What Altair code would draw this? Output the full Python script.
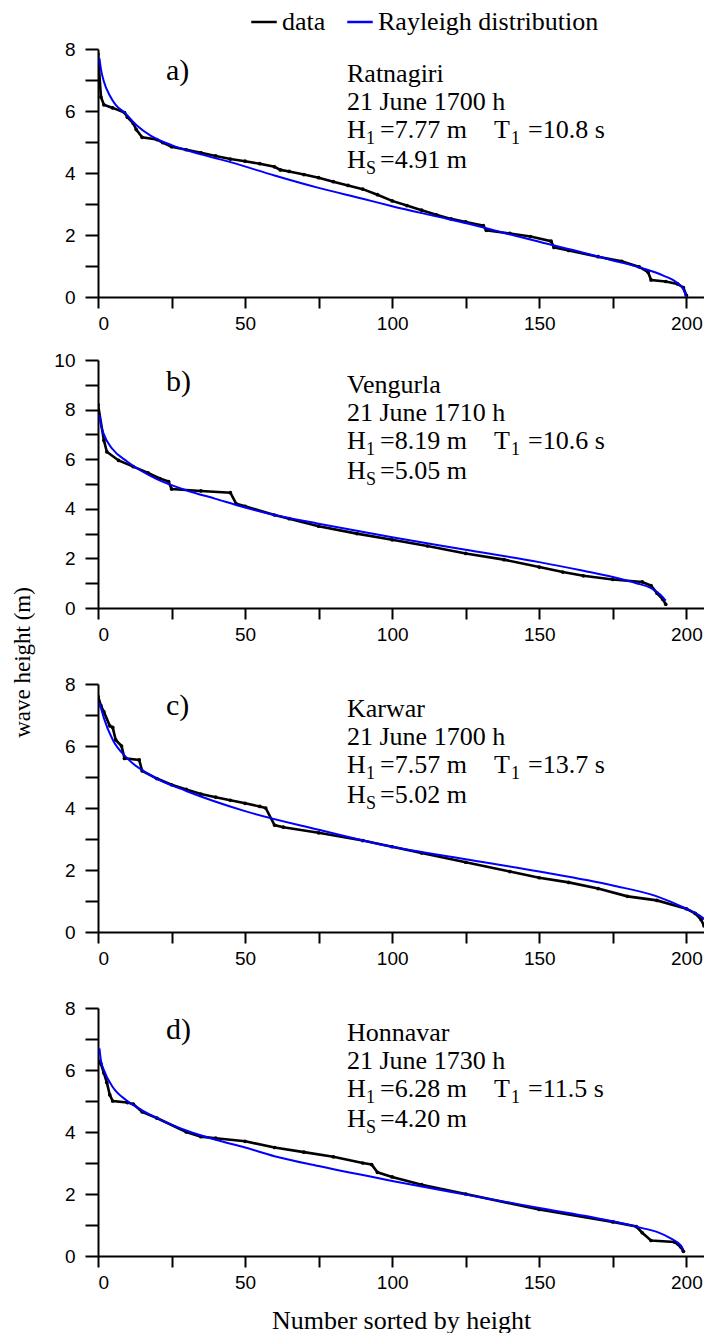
import altair as alt
import pandas as pd

# ---------------- data ----------------
# a) Ratnagiri
a_data_n = [0, 1, 2, 5, 9, 10, 12, 13, 15, 20, 22, 25, 30, 35, 40, 45, 50, 55, 60, 62, 65, 70, 75, 80, 85, 90, 95, 100, 105, 110, 115, 120, 125, 131, 132, 140, 147, 154, 155, 160, 170, 178, 184, 187, 188, 193, 197, 199, 200]
a_data_h = [7.84, 6.45, 6.2, 6.1, 5.95, 5.8, 5.6, 5.4, 5.15, 5.08, 4.98, 4.85, 4.75, 4.65, 4.55, 4.45, 4.38, 4.3, 4.2, 4.1, 4.05, 3.95, 3.85, 3.72, 3.6, 3.48, 3.3, 3.1, 2.95, 2.8, 2.65, 2.52, 2.42, 2.3, 2.15, 2.05, 1.95, 1.8, 1.6, 1.5, 1.3, 1.15, 0.97, 0.8, 0.55, 0.5, 0.42, 0.3, 0.05]
a_ray_n = [0.5, 1, 2, 4, 6, 9, 13, 18, 25, 35, 45, 60, 75, 90, 100, 115, 126, 140, 150, 165, 175, 185, 192, 197, 199, 200]
a_ray_h = [7.7, 7.35, 6.95, 6.5, 6.2, 5.95, 5.55, 5.2, 4.9, 4.6, 4.35, 3.92, 3.52, 3.17, 2.93, 2.6, 2.36, 2.02, 1.78, 1.43, 1.18, 0.93, 0.7, 0.45, 0.25, 0.0]

# b) Vengurla
b_data_n = [0, 2, 3, 7, 12, 17, 21, 24, 25, 35, 45, 47, 50, 60, 65, 75, 88, 100, 112, 125, 138, 150, 158, 165, 175, 185, 188, 190, 192, 193]
b_data_h = [8.2, 6.76, 6.3, 5.95, 5.7, 5.45, 5.22, 5.1, 4.8, 4.72, 4.65, 4.2, 4.1, 3.75, 3.6, 3.3, 3.0, 2.75, 2.5, 2.2, 1.95, 1.65, 1.45, 1.3, 1.15, 1.05, 0.9, 0.6, 0.35, 0.15]
b_ray_n = [0.5, 1, 2, 5, 10, 20, 30, 40, 50, 60, 75, 100, 125, 150, 165, 175, 183, 188, 191, 193]
b_ray_h = [7.8, 7.4, 7.0, 6.4, 5.9, 5.2, 4.75, 4.4, 4.05, 3.75, 3.4, 2.85, 2.35, 1.85, 1.5, 1.25, 1.0, 0.8, 0.55, 0.3]

# c) Karwar
c_data_n = [0, 1, 2, 4, 5, 6, 8, 9, 14, 15, 20, 25, 30, 35, 40, 45, 50, 55, 57, 60, 63, 75, 90, 100, 110, 125, 140, 150, 160, 170, 180, 190, 200, 203, 205, 206, 208]
c_data_h = [7.6, 7.3, 7.1, 6.65, 6.6, 6.2, 6.0, 5.6, 5.55, 5.2, 4.95, 4.75, 4.6, 4.45, 4.35, 4.25, 4.15, 4.05, 4.0, 3.45, 3.38, 3.2, 2.95, 2.75, 2.55, 2.25, 1.95, 1.75, 1.6, 1.4, 1.15, 1.02, 0.75, 0.6, 0.4, 0.2, 0.2]
c_ray_n = [0.5, 2, 5, 10, 20, 30, 50, 75, 100, 125, 150, 175, 190, 200, 205, 208]
c_ray_h = [7.4, 6.9, 6.2, 5.6, 4.95, 4.55, 3.9, 3.3, 2.75, 2.35, 1.95, 1.5, 1.15, 0.75, 0.5, 0.25]

# d) Honnavar
d_data_n = [0, 1, 2, 3, 4, 5, 10, 12, 15, 20, 30, 35, 40, 50, 60, 70, 80, 90, 93, 95, 100, 110, 125, 150, 175, 183, 185, 188, 196, 198, 199]
d_data_h = [6.3, 6.2, 5.9, 5.6, 5.2, 5.0, 4.95, 4.9, 4.65, 4.45, 4.0, 3.85, 3.8, 3.7, 3.5, 3.35, 3.2, 3.0, 2.95, 2.7, 2.55, 2.3, 2.0, 1.5, 1.1, 0.95, 0.75, 0.5, 0.45, 0.3, 0.15]
d_ray_n = [0.5, 1, 2, 5, 10, 15, 20, 30, 40, 50, 60, 75, 100, 125, 150, 175, 185, 190, 195, 198, 199]
d_ray_h = [6.7, 6.3, 6.0, 5.45, 5.0, 4.7, 4.45, 4.05, 3.75, 3.5, 3.22, 2.9, 2.42, 1.98, 1.55, 1.12, 0.9, 0.78, 0.55, 0.35, 0.2]

series_names = ["data", "Rayleigh distribution"]
series_colors = ["#000000", "#0000ff"]
x_ticks = [0, 25, 50, 75, 100, 125, 150, 175, 200]

SERIF = "Liberation Serif"
SANS = "Liberation Sans"

PLOT_W = 606
X_MAX = 206
PLOT_H = 248
FS = 26      # annotation font size
SUB = 18     # subscript font size


def txt(t, px, py, size, font=SERIF):
    return alt.Chart(pd.DataFrame({"t": [t]})).mark_text(
        align="left", baseline="alphabetic", font=font, fontSize=size, color="black"
    ).encode(text="t:N", x=alt.value(px), y=alt.value(py))


def panel(dn, dh, rn, rh, ymax, letter, place, date, h1, t1, hs, top, ytitle=False, xtitle=False):
    H = PLOT_H + top
    d1 = pd.DataFrame({"n": dn, "h": dh, "series": series_names[0]})
    d2 = pd.DataFrame({"n": rn, "h": rh, "series": series_names[1]})
    xenc = alt.X(
        "n:Q",
        scale=alt.Scale(domain=[0, X_MAX], nice=False, zero=False),
        axis=alt.Axis(
            values=x_ticks,
            labelExpr="datum.value % 50 == 0 ? datum.label : ''",
            tickSize=11,
            labelPadding=6,
            title="Number sorted by height" if xtitle else None,
            titleFont=SERIF,
            titleFontSize=26,
            titleFontWeight="normal",
            titlePadding=15,
        ),
    )
    yaxis = dict(
        values=list(range(0, ymax + 1)),
        labelExpr="datum.value % 2 == 0 ? datum.label : ''",
        tickSize=13,
        labelPadding=10,
        title="wave height (m)" if ytitle else None,
    )
    if ytitle:
        yaxis.update(
            titleFont=SERIF, titleFontSize=23, titleFontWeight="normal",
            titleX=-76, titleY=-9, titleAngle=270, titleAlign="center", titleBaseline="middle",
        )
    yenc = alt.Y(
        "h:Q",
        scale=alt.Scale(domain=[0, ymax], nice=False, zero=True, range=[H, top]),
        axis=alt.Axis(**yaxis),
    )
    color = alt.Color(
        "series:N",
        scale=alt.Scale(domain=series_names, range=series_colors),
        legend=alt.Legend(
            orient="none", legendX=152, legendY=-41, direction="horizontal", title=None,
            symbolType="stroke", symbolStrokeWidth=2.5, symbolSize=650,
            labelFont=SERIF, labelFontSize=26, labelColor="black", labelLimit=400,
            columnPadding=16, padding=0,
        ),
    )
    data_line = alt.Chart(d1).mark_line(
        strokeWidth=2.6, clip=True, point=alt.OverlayMarkDef(size=14, filled=True, clip=True)
    ).encode(x=xenc, y=yenc, color=color)
    ray_line = alt.Chart(d2).mark_line(
        strokeWidth=2, interpolate="monotone", clip=True
    ).encode(x=xenc, y=yenc, color=color)

    x0 = 249
    texts = [
        txt(letter, 68, top + 31, 30),
        txt(place, x0, top + 33, FS),
        txt(date, x0, top + 61, FS),
        txt("H", x0, top + 89, FS),
        txt("1", x0 + 19, top + 95, SUB),
        txt("=" + h1 + " m", x0 + 33, top + 89, FS),
        txt("T", x0 + 147, top + 89, FS),
        txt("1", x0 + 164, top + 95, SUB),
        txt("=" + t1 + " s", x0 + 181, top + 89, FS),
        txt("H", x0, top + 119, FS),
        txt("S", x0 + 19, top + 125, SUB),
        txt("=" + hs + " m", x0 + 33, top + 119, FS),
    ]
    return alt.layer(data_line, ray_line, *texts).properties(width=PLOT_W, height=H)


pa = panel(a_data_n, a_data_h, a_ray_n, a_ray_h, 8, "a)", "Ratnagiri", "21 June 1700 h", "7.77", "10.8", "4.91", 0)
pb = panel(b_data_n, b_data_h, b_ray_n, b_ray_h, 10, "b)", "Vengurla", "21 June 1710 h", "8.19", "10.6", "5.05", 0)
pc = panel(c_data_n, c_data_h, c_ray_n, c_ray_h, 8, "c)", "Karwar", "21 June 1700 h", "7.57", "13.7", "5.02", 13, ytitle=True)
pd_ = panel(d_data_n, d_data_h, d_ray_n, d_ray_h, 8, "d)", "Honnavar", "21 June 1730 h", "6.28", "11.5", "4.20", 13, xtitle=True)

chart = alt.vconcat(pa, pb, pc, pd_, spacing=63, bounds="flush").properties(
    padding={"left": 2, "top": 0, "right": 0, "bottom": 0}
).configure_view(stroke=None).configure_axis(
    domainColor="black", domainWidth=2, tickColor="black", tickWidth=2, grid=False,
    labelFont=SANS, labelFontSize=19, labelColor="black", titleColor="black",
)

chart.save("out.html", embed_options={"renderer": "svg", "actions": False})
